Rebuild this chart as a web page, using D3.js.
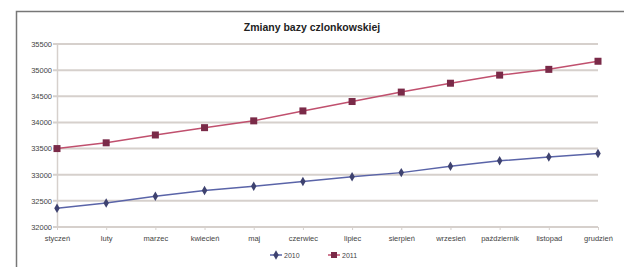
<!DOCTYPE html>
<html lang="pl">
<head>
    <meta charset="UTF-8">
    <title>Zmiany bazy czlonkowskiej</title>
    <style>
        body { margin: 0; background: #fff; overflow: hidden; }
        svg { display: block; }
        text { font-family: "Liberation Sans", Arial, sans-serif; }
    </style>
</head>
<body>
<script src="https://d3js.org/d3.v7.min.js"></script>
<script>
    let months = ['styczeń', 'luty', 'marzec', 'kwiecień', 'maj', 'czerwiec', 'lipiec',
        'sierpień', 'wrzesień', 'październik', 'listopad', 'grudzień'];
    let values2010 = [32360, 32460, 32590, 32700, 32780, 32870, 32960, 33040, 33160, 33265, 33340, 33405];
    let values2011 = [33500, 33610, 33760, 33900, 34030, 34220, 34400, 34580, 34750, 34905, 35015, 35170];
    let yTicks = [32000, 32500, 33000, 33500, 34000, 34500, 35000, 35500];

    let width = 624;
    let height = 267;
    let padding = { top: 44, right: 26, bottom: 40, left: 57 };

    let svg = d3.select('body')
        .append('svg')
        .attr('width', width)
        .attr('height', height);

    // frame: only the left and top edges are inside the picture
    svg.append('path')
        .attr('d', 'M16.5,' + height + 'V11.5H' + width)
        .attr('fill', 'none')
        .attr('stroke', '#777')
        .attr('stroke-width', 1.5);

    svg.append('text')
        .attr('x', 312).attr('y', 31)
        .attr('text-anchor', 'middle')
        .attr('font-size', 10.5)
        .attr('font-weight', 'bold')
        .attr('fill', '#222')
        .text('Zmiany bazy czlonkowskiej');

    let xScale = d3.scalePoint()
        .domain(months)
        .range([padding.left, width - padding.right]);

    let yScale = d3.scaleLinear()
        .domain([32000, 35500])
        .range([height - padding.bottom, padding.top]);

    // gridlines
    svg.append('g')
        .selectAll('line').data(yTicks)
        .enter().append('line')
        .attr('x1', padding.left - 4)
        .attr('x2', width - padding.right)
        .attr('y1', d => yScale(d))
        .attr('y2', d => yScale(d))
        .attr('stroke', '#d6d0cc')
        .attr('stroke-width', 2);

    // y axis
    let yAxis = d3.axisLeft(yScale).tickValues(yTicks).tickFormat(d3.format('d')).tickSize(0).tickPadding(5);
    let gy = svg.append('g')
        .attr('transform', 'translate(' + padding.left + ',0)')
        .call(yAxis);
    gy.select('.domain').attr('stroke', '#d6d0cc').attr('stroke-width', 1.5);
    gy.selectAll('text').attr('font-size', 7.5).attr('fill', '#444');

    // x axis
    let xAxis = d3.axisBottom(xScale).tickSize(3).tickPadding(6);
    let gx = svg.append('g')
        .attr('transform', 'translate(0,' + (height - padding.bottom) + ')')
        .call(xAxis);
    gx.select('.domain').remove();
    gx.selectAll('line').attr('stroke', '#d6d0cc');
    gx.selectAll('text').attr('font-size', 7.5).attr('fill', '#444');

    let line = d3.line()
        .x((d, i) => xScale(months[i]))
        .y(d => yScale(d));

    svg.append('path')
        .datum(values2010)
        .attr('d', line)
        .attr('fill', 'none')
        .attr('stroke', '#5a64a8')
        .attr('stroke-width', 1.5);

    svg.append('path')
        .datum(values2011)
        .attr('d', line)
        .attr('fill', 'none')
        .attr('stroke', '#c0506e')
        .attr('stroke-width', 1.5);

    let diamond = d3.symbol().type(d3.symbolDiamond).size(26);
    svg.append('g')
        .selectAll('path').data(values2010)
        .enter().append('path')
        .attr('d', diamond)
        .attr('transform', (d, i) => 'translate(' + xScale(months[i]) + ',' + yScale(d) + ')')
        .attr('fill', '#3e4270');

    svg.append('g')
        .selectAll('rect').data(values2011)
        .enter().append('rect')
        .attr('x', (d, i) => xScale(months[i]) - 3.5)
        .attr('y', d => yScale(d) - 3.5)
        .attr('width', 7).attr('height', 7)
        .attr('fill', '#7a2a48');

    // legend
    let legend = svg.append('g').attr('transform', 'translate(270,255)');
    legend.append('line')
        .attr('x1', 0).attr('x2', 12).attr('y1', 0).attr('y2', 0)
        .attr('stroke', '#5a64a8').attr('stroke-width', 1.5);
    legend.append('path')
        .attr('d', diamond)
        .attr('transform', 'translate(6,0)')
        .attr('fill', '#3e4270');
    legend.append('text')
        .attr('x', 14).attr('y', 3)
        .attr('font-size', 7).attr('fill', '#444')
        .text('2010');
    legend.append('line')
        .attr('x1', 58).attr('x2', 70).attr('y1', 0).attr('y2', 0)
        .attr('stroke', '#c0506e').attr('stroke-width', 1.5);
    legend.append('rect')
        .attr('x', 61).attr('y', -3).attr('width', 6).attr('height', 6)
        .attr('fill', '#7a2a48');
    legend.append('text')
        .attr('x', 72).attr('y', 3)
        .attr('font-size', 7).attr('fill', '#444')
        .text('2011');
</script>
</body>
</html>
